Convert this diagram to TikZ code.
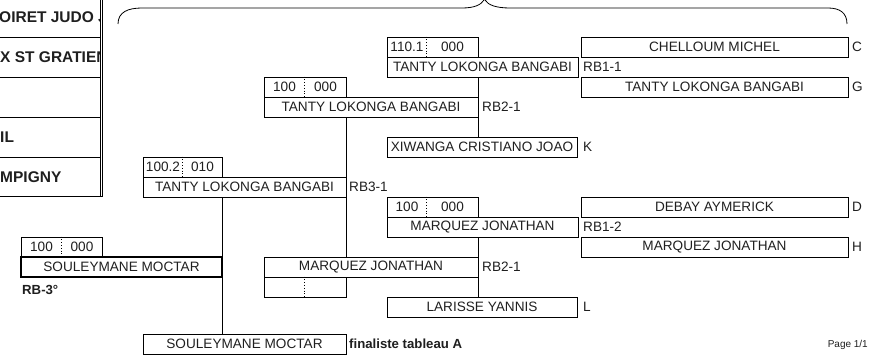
\documentclass[tikz,border=0pt]{standalone}
\usepackage{fontspec}
\setmainfont{Liberation Sans}
\usetikzlibrary{calc}
\definecolor{txt}{rgb}{0.12,0.12,0.12}
\newcommand\fs{\fontsize{13.6}{15}\selectfont}
\newcommand\fsb{\fontsize{13.2}{15}\selectfont\bfseries}
\newcommand\fsl{\fontsize{15.5}{17}\selectfont\bfseries}
\tikzset{
  bx/.style={draw, line width=0.8pt, inner sep=0pt, minimum height=20pt, font=\fs, text=txt},
  thickbx/.style={bx, line width=1.8pt},
  lbl/.style={anchor=west, inner sep=0pt, font=\fs, text=txt},
  blbl/.style={anchor=west, inner sep=0pt, font=\fsb, text=txt},
  sc/.style={inner sep=0pt, font=\fs, text=txt},
  panel/.style={anchor=west, inner sep=0pt, font=\fsl, text=txt},
  conn/.style={line width=0.8pt},
  dv/.style={dotted, line width=0.8pt},
}
\begin{document}
\begin{tikzpicture}[x=1pt,y=-1pt]
\useasboundingbox (0,0) rectangle (876,358);
% left panel
\begin{scope}
\clip (0,0) rectangle (100,196);
\node[panel] (p1) at (-1,17) {OIRET JUDO J};
\node[panel] (p2) at (0,57) {X ST GRATIEN};
\node[panel] (p4) at (0,137) {IL};
\node[panel] (p5) at (0,177) {MPIGNY};
\end{scope}
\draw[conn] (0,37) -- (100,37) (0,77) -- (100,77) (0,117) -- (100,117) (0,157) -- (100,157) (0,196) -- (102.5,196);
\draw[conn] (100.5,0) -- (100.5,196);
\draw[conn] (102.5,0) -- (102.5,196);
% brace
\draw[conn] (118,24) .. controls (118,12) and (128,8) .. (142,8) -- (462,8) .. controls (474,8) and (481,5) .. (484,0);
\draw[conn] (485,0) .. controls (488,5) and (496,8) .. (510,8) -- (828,8) .. controls (840,8) and (847,13) .. (847,24);
% round 1 (right column)
\node[bx, minimum width=267pt] (cbox) at (714.5,47) {CHELLOUM MICHEL};
\node[bx, minimum width=267pt] (gbox) at (714.5,87) {TANTY LOKONGA BANGABI};
\node[bx, minimum width=267pt] (dbox) at (714.5,207) {DEBAY AYMERICK};
\node[bx, minimum width=267pt] (hbox) at (714.5,247) {MARQUEZ JONATHAN};
\node[lbl] (lc) at (852,47) {C};
\node[lbl] (lg) at (852,87) {G};
\node[lbl] (ld) at (852,207) {D};
\node[lbl] (lh) at (852,247) {H};
% column 3
\node[bx, minimum width=91pt] (ascore) at (432.5,47) {};
\node[sc] (as1) at (407,47) {110.1};
\node[sc] (as2) at (452.5,47) {000};
\draw[dv] ($(ascore.north west)+(40,0)$) -- ($(ascore.south west)+(40,0)$);
\node[bx, minimum width=191pt] (aname) at (482.5,67) {TANTY LOKONGA BANGABI};
\node[lbl] (rb11) at (583,67) {RB1-1};
\node[bx, minimum width=190pt] (xiw) at (482,147) {XIWANGA CRISTIANO JOAO};
\node[lbl] (lk) at (583,147) {K};
\node[bx, minimum width=91pt] (dscore) at (432.5,207) {};
\node[sc] (ds1) at (407,207) {100};
\node[sc] (ds2) at (452.5,207) {000};
\draw[dv] ($(dscore.north west)+(40,0)$) -- ($(dscore.south west)+(40,0)$);
\node[bx, minimum width=191pt] (dname) at (482.5,227) {MARQUEZ JONATHAN};
\node[lbl] (rb12) at (583,227) {RB1-2};
\node[bx, minimum width=190pt] (lar) at (482,307) {LARISSE YANNIS};
\node[lbl] (ll) at (583,307) {L};
% column 2
\node[bx, minimum width=82pt] (bscore) at (305,87) {};
\node[sc] (bs1) at (284.5,87) {100};
\node[sc] (bs2) at (325.5,87) {000};
\draw[dv] ($(bscore.north west)+(41,0)$) -- ($(bscore.south west)+(41,0)$);
\node[bx, minimum width=214pt] (bname) at (371,107) {TANTY LOKONGA BANGABI};
\node[lbl] (rb21a) at (482,107) {RB2-1};
\node[bx, minimum width=214pt] (ename) at (371,267) {MARQUEZ JONATHAN};
\node[bx, minimum width=82pt] (escore) at (305,287) {};
\draw[dv] ($(escore.north west)+(41,0)$) -- ($(escore.south west)+(41,0)$);
\node[lbl] (rb21b) at (482,267) {RB2-1};
% column 1
\node[bx, minimum width=79pt] (cscore) at (182.5,167) {};
\node[sc] (cs1) at (163,167) {100.2};
\node[sc] (cs2) at (202.5,167) {010};
\draw[dv] ($(cscore.north west)+(40,0)$) -- ($(cscore.south west)+(40,0)$);
\node[bx, minimum width=203pt] (cname) at (244.5,187) {TANTY LOKONGA BANGABI};
\node[lbl] (rb31) at (349,187) {RB3-1};
\node[bx, minimum width=203pt] (final) at (244.5,344) {SOULEYMANE MOCTAR};
\node[blbl] (fin) at (349,344) {finaliste tableau A};
% column 0
\node[bx, minimum width=81pt] (sscore) at (61.5,247) {};
\node[sc] (ss1) at (41.5,247) {100};
\node[sc] (ss2) at (82,247) {000};
\draw[dv] ($(sscore.north west)+(41,0)$) -- ($(sscore.south west)+(41,0)$);
\node[thickbx, minimum width=201pt] (sname) at (121.5,267) {SOULEYMANE MOCTAR};
\node[blbl] (rb3) at (22,290) {RB-3°};
% connectors
\draw[conn] (aname.south -| ascore.east) -- (xiw.north -| ascore.east);
\draw[conn] (dname.south -| dscore.east) -- (lar.north -| dscore.east);
\draw[conn] (bname.south -| bscore.east) -- (ename.north -| bscore.east);
\draw[conn] (cname.south -| cscore.east) -- (final.north -| cscore.east);
% page number
\node[inner sep=0pt, anchor=east, font=\fontsize{10}{12}\selectfont, text=txt] (page) at (868,345) {Page 1/1};
\end{tikzpicture}
\end{document}
